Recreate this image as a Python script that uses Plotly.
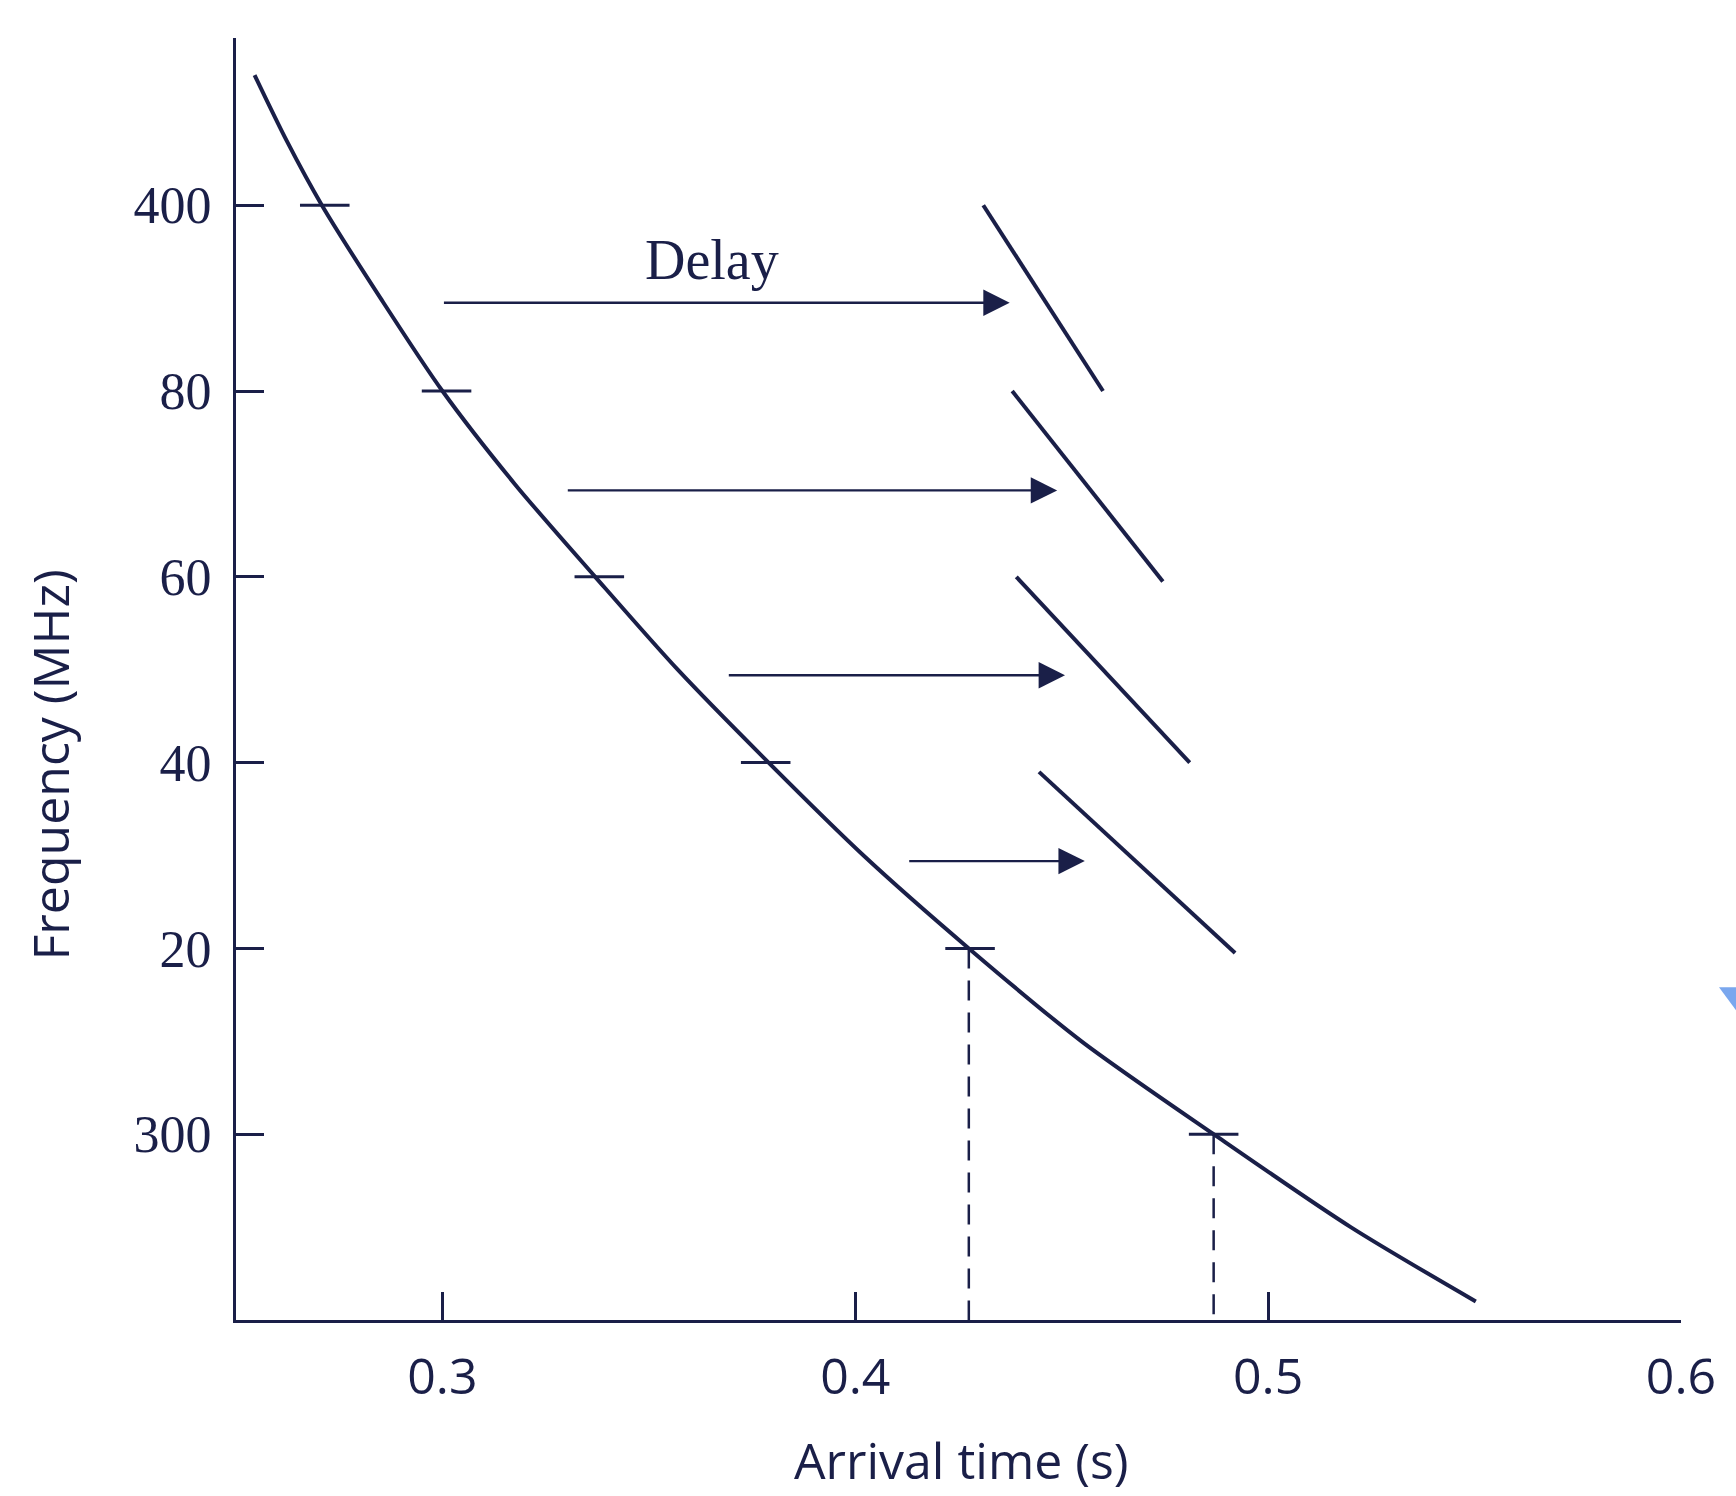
import plotly.graph_objects as go

# Dispersion curve: arrival time (s) of a pulse versus observing frequency (MHz)
curve_freq = [414, 407, 400, 390, 380, 370, 360, 350, 340, 330, 320, 310, 300, 290, 282]
curve_time = [0.2545, 0.2622, 0.2708, 0.285, 0.300, 0.3175, 0.337, 0.357, 0.379, 0.402,
              0.4275, 0.4548, 0.4868, 0.520, 0.5503]

# Labelled frequencies and where they cross the curve
mark_freq = [400, 380, 360, 340, 320, 300]
mark_time = [0.2715, 0.301, 0.338, 0.3783, 0.4278, 0.4868]
ytick_text = ["400", "80", "60", "40", "20", "300"]

# Dashed drop lines at the 320 and 300 MHz crossings
drop_freq = [320, 300]
drop_time = [0.4275, 0.4868]

# Delayed pulse segments (start/end in time and frequency)
seg_time_start = [0.431, 0.438, 0.439, 0.4445]
seg_time_end = [0.460, 0.4745, 0.481, 0.492]
seg_freq_start = [400, 380, 360, 339]
seg_freq_end = [380, 359.5, 340, 319.5]

# Horizontal "delay" arrows
arrow_freq = [389.5, 369.3, 349.4, 329.4]
arrow_start = [0.300, 0.330, 0.369, 0.4127]
arrow_end = [0.4374, 0.4489, 0.4508, 0.4556]

xtick_vals = [0.3, 0.4, 0.5, 0.6]
xtick_text = ["0.3", "0.4", "0.5", "0.6"]

INK = "#1a1f48"
MARK_HALF = 0.006

fig = go.Figure()

fig.add_trace(go.Scatter(x=curve_time, y=curve_freq, mode="lines",
                         line=dict(color=INK, width=4, shape="spline", smoothing=0.8),
                         hoverinfo="skip"))

for t, f in zip(mark_time, mark_freq):
    fig.add_trace(go.Scatter(x=[t - MARK_HALF, t + MARK_HALF], y=[f, f], mode="lines",
                             line=dict(color=INK, width=3), hoverinfo="skip"))

for t, f in zip(drop_time, drop_freq):
    fig.add_trace(go.Scatter(x=[t, t], y=[f, 280], mode="lines",
                             line=dict(color=INK, width=2.5, dash="20px,12px"),
                             hoverinfo="skip"))

for t0, t1, f0, f1 in zip(seg_time_start, seg_time_end, seg_freq_start, seg_freq_end):
    fig.add_trace(go.Scatter(x=[t0, t1], y=[f0, f1], mode="lines",
                             line=dict(color=INK, width=4), hoverinfo="skip"))

annotations = []
for f, t0, t1 in zip(arrow_freq, arrow_start, arrow_end):
    annotations.append(dict(x=t1, y=f, ax=t0, ay=f, xref="x", yref="y",
                            axref="x", ayref="y", text="", showarrow=True,
                            arrowhead=2, arrowsize=2.2, arrowwidth=2.4,
                            arrowcolor=INK, standoff=0, startstandoff=0))

annotations.append(dict(x=0.3653, y=394.1, xref="x", yref="y", text="Delay",
                        showarrow=False, xanchor="center", yanchor="middle",
                        font=dict(family="Liberation Serif", size=56, color=INK)))

annotations.append(dict(x=0.502, y=-0.1095, xref="paper", yref="paper",
                        text="Arrival time (s)", showarrow=False,
                        xanchor="center", yanchor="middle",
                        font=dict(family="Open Sans", size=50, color=INK)))

annotations.append(dict(x=-0.1287, y=0.4326, xref="paper", yref="paper",
                        text="Frequency (MHz)", showarrow=False, textangle=-90,
                        xanchor="center", yanchor="middle",
                        font=dict(family="Open Sans", size=50, color=INK)))

fig.update_layout(
    width=1736, height=1496,
    margin=dict(l=236, r=55, t=38, b=176),
    paper_bgcolor="white", plot_bgcolor="white",
    showlegend=False,
    annotations=annotations,
    shapes=[dict(type="path", xref="paper", yref="paper",
                 path="M 1.0263 0.2595 L 1.0381 0.2595 L 1.0381 0.2416 Z",
                 fillcolor="#7aa7ee", line=dict(width=0))],
    xaxis=dict(range=[0.25, 0.6], tickvals=xtick_vals, ticktext=xtick_text,
               showline=True, linecolor=INK, linewidth=3, ticks="inside",
               ticklen=28, tickwidth=2.5, tickcolor=INK, showgrid=False,
               zeroline=False, ticklabelstandoff=11,
               tickfont=dict(family="Open Sans", size=50, color=INK)),
    yaxis=dict(range=[280, 418], tickvals=mark_freq, ticktext=ytick_text,
               showline=True, linecolor=INK, linewidth=3, ticks="inside",
               ticklen=28, tickwidth=2.5, tickcolor=INK, showgrid=False,
               zeroline=False, ticklabelstandoff=11,
               tickfont=dict(family="Liberation Serif", size=52, color=INK)),
)

fig.write_html("out.html")
